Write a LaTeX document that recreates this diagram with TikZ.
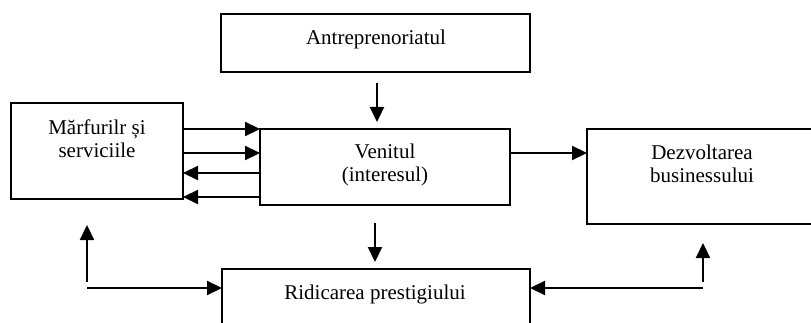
\documentclass[tikz,border=0pt]{standalone}
\usepackage{fontspec}
\setmainfont{Liberation Serif}
\usetikzlibrary{arrows.meta}
\tikzset{my_diagram/.style={x=1pt,y=-1pt,>={Triangle[length=15pt,width=14pt]}}}
\tikzset{my_box/.style={draw, rectangle, line width=1.8pt, inner sep=0pt, outer sep=0pt}}
\tikzset{my_text/.style={font=\fontsize{21}{23}\selectfont, align=center, anchor=base, inner sep=0pt}}
\tikzset{my_arrow/.style={->, line width=2.2pt}}

\begin{document}
\begin{tikzpicture}[my_diagram]
    \useasboundingbox (0,0) rectangle (811,323);
    \clip (0,0) rectangle (811,323);
    %\draw[help lines, step=50pt] (0,0) grid (811,323);
    \node[my_box, minimum width=309pt, minimum height=58pt] (antr) at (375.5,43) {};
    \node[my_box, minimum width=172pt, minimum height=96pt] (marf) at (97,151) {};
    \node[my_box, minimum width=250pt, minimum height=76pt] (venit) at (385,167) {};
    \node[my_box, minimum width=253pt, minimum height=95pt] (dezv) at (713.5,176.5) {};
    \node[my_box, minimum width=308pt, minimum height=81pt] (ridic) at (376,309.5) {};

    % base of a two-line node is the last line
    \node[my_text] (antr_t) at (376,45) {Antreprenoriatul};
    \node[my_text] (marf_t) at (97,158) {Mărfurilr și\\serviciile};
    \node[my_text] (venit_t) at (385,182) {Venitul\\(interesul)};
    \node[my_text] (dezv_t) at (702,183) {Dezvoltarea\\businessului};
    \node[my_text] (ridic_t) at (375,299) {Ridicarea prestigiului};

    \coordinate (left_corner) at (87,288);
    \coordinate (right_corner) at (703,288);

    \draw[my_arrow, shorten <=11pt, shorten >=7pt] (antr.south -| 377,0) -- (venit.north -| 377,0);
    \draw[my_arrow, shorten <=18pt, shorten >=7pt] (venit.south -| 375,0) -- (ridic.north -| 375,0);
    \foreach \y/\dir in {129/->,153/->,173/<-,197/<-}
        \draw[my_arrow, \dir] (marf.east |- 0,\y) -- (venit.west |- 0,\y);
    \draw[my_arrow] (venit.east |- 0,153) -- (dezv.west |- 0,153);

    \draw[my_arrow] (left_corner) -- (ridic.west |- left_corner);
    \draw[my_arrow, shorten <=6pt, shorten >=26pt] (left_corner) -- (marf.south -| left_corner);
    \draw[my_arrow] (right_corner) -- (ridic.east |- right_corner);
    \draw[my_arrow, shorten <=6pt, shorten >=19pt] (right_corner) -- (dezv.south -| right_corner);
\end{tikzpicture}
\end{document}
